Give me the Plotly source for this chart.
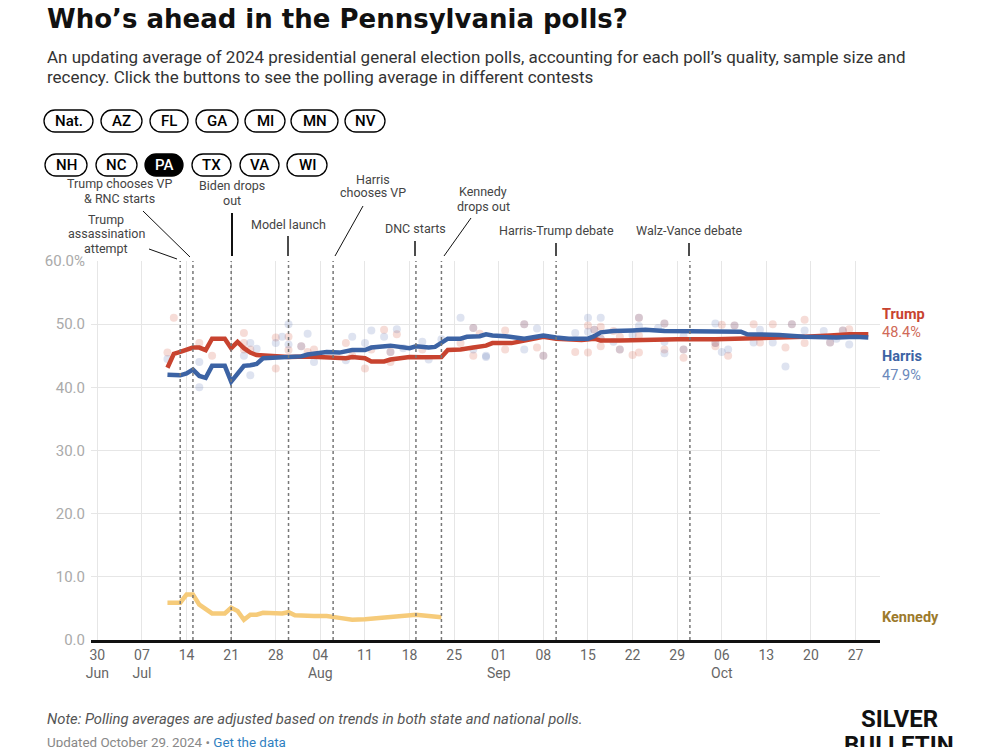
import plotly.graph_objects as go

# ---------------- DATA ----------------
trump_avg_dates = ["07-11","07-12","07-13","07-15","07-16","07-17","07-18","07-20","07-21","07-22","07-23","07-24","07-25","07-28","07-30",
                   "08-02","08-04","08-05","08-08","08-09","08-11","08-12","08-14","08-15","08-17","08-18","08-20","08-22","08-23","08-24",
                   "08-26","08-28","08-29","08-30","08-31","09-03","09-04","09-06","09-08","09-10","09-12","09-14","09-16","09-17","09-20",
                   "09-23","09-25","09-27","09-29","10-05","10-10","10-15","10-19","10-23","10-26","10-29"]
trump_avg = [43.1,45.3,45.6,46.3,46.3,45.9,47.7,47.7,46.2,47.2,46.2,45.5,45.1,45.0,44.8,
             44.9,44.8,44.6,44.6,44.8,44.6,44.1,44.1,44.4,44.6,44.8,44.75,44.9,44.8,45.9,
             46.0,46.3,46.4,46.6,47.0,47.0,47.2,47.6,48.0,47.7,47.6,47.5,47.7,47.4,47.4,
             47.5,47.4,47.5,47.6,47.6,47.7,47.9,48.0,48.2,48.4,48.4]

harris_avg_dates = ["07-11","07-13","07-14","07-15","07-16","07-17","07-18","07-20","07-21","07-22","07-23","07-24","07-25","07-26","07-28",
                    "07-30","08-01","08-02","08-04","08-05","08-07","08-09","08-11","08-12","08-15","08-17","08-18","08-19","08-21","08-22",
                    "08-23","08-24","08-26","08-27","08-29","08-30","08-31","09-02","09-05","09-06","09-08","09-10","09-12","09-15","09-16",
                    "09-17","09-19","09-22","09-24","09-27","09-30","10-07","10-09","10-10","10-15","10-19","10-21","10-24","10-27","10-29"]
harris_avg = [42.0,41.9,42.2,42.8,41.8,41.5,43.4,43.4,40.9,42.1,43.4,43.5,43.7,44.6,44.75,
              44.8,44.9,45.2,45.4,45.6,45.5,45.9,45.9,46.3,46.6,46.4,46.2,46.5,46.3,46.4,
              47.0,47.7,47.7,48.0,48.1,48.4,48.2,48.1,47.7,47.9,48.2,47.9,47.7,47.7,48.1,
              48.7,48.9,49.0,49.1,48.9,48.9,48.9,48.8,48.4,48.3,48.0,47.9,47.9,48.0,47.9]

kennedy_avg_dates = ["07-11","07-13","07-14","07-15","07-16","07-18","07-20","07-21","07-22","07-23","07-24","07-25","07-26","07-28","07-29",
                     "07-30","07-31","08-03","08-05","08-07","08-09","08-11","08-13","08-15","08-16","08-17","08-19","08-21","08-23"]
kennedy_avg = [5.9,5.9,7.2,7.2,5.6,4.2,4.2,5.1,4.6,3.2,4.0,4.0,4.3,4.2,4.2,
               4.4,3.9,3.8,3.8,3.5,3.2,3.3,3.5,3.6,3.7,3.8,4.0,3.8,3.6]

trump_poll_dates = ["07-11","07-12","07-16","07-18","07-23","07-23","07-23","07-24","07-28","07-28","07-30","07-30","08-01","08-02","08-03",
                    "08-08","08-09","08-11","08-12","08-14","08-15","08-15","08-16","08-20","08-26","08-28","08-28","08-29","09-02","09-02",
                    "09-05","09-07","09-08","09-13","09-15","09-15","09-16","09-17","09-17","09-17","09-19","09-20","09-20","09-22","09-23",
                    "09-23","09-23","09-27","09-27","09-30","09-30","10-05","10-05","10-06","10-07","10-08","10-11","10-12","10-14","10-16",
                    "10-17","10-19","10-19","10-23","10-25","10-26"]
trump_poll = [45.5,51.0,47.0,45.0,48.6,46.0,47.0,46.0,47.9,43.0,48.0,45.9,46.5,45.6,46.0,
              47.0,45.0,43.0,46.0,49.1,44.0,45.6,48.4,46.0,47.0,49.4,45.0,48.5,49.0,46.0,
              50.0,46.3,45.0,45.6,49.8,45.5,49.1,49.6,47.7,46.5,48.9,46.0,48.0,45.1,48.2,
              51.0,45.5,50.1,46.0,46.0,44.7,47.0,46.5,49.9,45.0,49.8,50.0,47.1,50.0,46.3,
              50.0,50.7,47.0,47.1,49.0,49.2]

harris_poll_dates = ["07-11","07-16","07-16","07-23","07-24","07-24","07-25","07-28","07-29","07-30","07-30","08-01","08-02","08-03","08-08",
                     "08-09","08-11","08-12","08-14","08-15","08-16","08-17","08-20","08-21","08-23","08-26","08-28","08-28","08-30","08-30",
                     "09-05","09-05","09-07","09-08","09-13","09-15","09-15","09-16","09-17","09-17","09-19","09-20","09-22","09-23","09-23",
                     "09-26","09-27","09-27","09-27","09-30","09-30","10-05","10-05","10-06","10-07","10-08","10-11","10-12","10-14","10-16",
                     "10-17","10-19","10-22","10-23","10-24","10-25","10-26"]
harris_poll = [44.5,44.0,40.0,45.0,47.0,41.9,46.1,47.0,48.0,50.0,46.8,46.5,48.5,44.0,44.3,
               48.0,47.0,49.0,48.0,45.6,49.2,46.2,47.2,44.4,47.6,51.0,49.4,46.0,44.8,45.0,
               50.0,46.0,49.3,45.0,48.6,51.0,48.8,49.1,51.0,47.7,47.2,46.0,48.3,49.7,51.0,
               49.4,50.1,47.2,45.4,46.0,48.1,50.1,47.0,45.6,46.0,49.8,47.1,49.1,47.1,43.3,
               50.0,49.0,48.9,47.1,47.7,49.0,46.8]

event_dates = ["07-13","07-15","07-21","07-30","08-06","08-19","08-23","09-10","10-01"]

week_ticks = ["06-30","07-07","07-14","07-21","07-28","08-04","08-11","08-18","08-25",
              "09-01","09-08","09-15","09-22","09-29","10-06","10-13","10-20","10-27"]
week_labels = ["30<br>Jun","07<br>Jul","14","21","28","04<br>Aug","11","18","25",
               "01<br>Sep","08","15","22","29","06<br>Oct","13","20","27"]
y_ticks = [0, 10, 20, 30, 40, 50, 60]
y_labels = ["0.0", "10.0", "20.0", "30.0", "40.0", "50.0", "60.0%"]

states = ["Nat.", "AZ", "FL", "GA", "MI", "MN", "NV", "NH", "NC", "PA", "TX", "VA", "WI"]
selected_state = "PA"

def d(s):
    return "2024-" + s

# ---------------- LAYOUT GEOMETRY ----------------
FW, FH = 987, 747
L, R, T, B = 91, 880, 261, 640
PW, PH = R - L, B - T

def pp(px, py):
    return ((px - L) / PW, (B - py) / PH)

RED = "#c8432f"
BLUE = "#3c63a4"
GOLD = "#f6cb7a"
FONT = "Roboto, sans-serif"

fig = go.Figure()

fig.add_trace(go.Scatter(x=[d(s) for s in trump_poll_dates], y=trump_poll, mode="markers",
                         marker=dict(size=8, color="rgba(214,95,75,0.22)", line=dict(width=0)),
                         hoverinfo="skip"))
fig.add_trace(go.Scatter(x=[d(s) for s in harris_poll_dates], y=harris_poll, mode="markers",
                         marker=dict(size=8, color="rgba(70,100,170,0.18)", line=dict(width=0)),
                         hoverinfo="skip"))
fig.add_trace(go.Scatter(x=[d(s) for s in kennedy_avg_dates], y=kennedy_avg, mode="lines",
                         line=dict(color=GOLD, width=4.5)))
fig.add_trace(go.Scatter(x=[d(s) for s in trump_avg_dates], y=trump_avg, mode="lines",
                         line=dict(color=RED, width=4.5)))
fig.add_trace(go.Scatter(x=[d(s) for s in harris_avg_dates], y=harris_avg, mode="lines",
                         line=dict(color=BLUE, width=4.5)))

shapes = []
annotations = []

# event dotted lines
for e in event_dates:
    shapes.append(dict(type="line", xref="x", yref="y", x0=d(e), x1=d(e), y0=0, y1=60,
                       line=dict(color="#777", width=1.5, dash="dot"), layer="above"))

# leader lines (pixel positions)
leaders = [((149, 249), (177, 259), 1), ((143, 211), (190, 257), 1), ((232, 213), (232, 256), 2),
           ((288, 236), (288, 256), 1.5), ((363, 206), (335, 256), 1), ((415, 241), (415, 256), 1.5),
           ((471, 218), (444, 256), 1), ((556, 243), (556, 256), 1.5), ((689, 243), (689, 256), 1.5)]
for (a, b, w) in leaders:
    x0, y0 = pp(*a)
    x1, y1 = pp(*b)
    shapes.append(dict(type="line", xref="paper", yref="paper", x0=x0, y0=y0, x1=x1, y1=y1,
                       line=dict(color="#111", width=w)))

event_text = [
    (119, [("Trump chooses VP", 184), ("& RNC starts", 199)]),
    (106, [("Trump", 219), ("assassination", 233), ("attempt", 248)]),
    (232, [("Biden drops", 185), ("out", 200)]),
    (288, [("Model launch", 224)]),
    (373, [("Harris", 179), ("chooses VP", 193)]),
    (415, [("DNC starts", 229)]),
    (483, [("Kennedy", 191), ("drops out", 206)]),
    (556, [("Harris-Trump debate", 230)]),
    (689, [("Walz-Vance debate", 230)]),
]
for cx, lines in event_text:
    for txt, cy in lines:
        x, y = pp(cx, cy)
        annotations.append(dict(xref="paper", yref="paper", x=x, y=y, text=txt, showarrow=False,
                                xanchor="center", yanchor="middle",
                                font=dict(family=FONT, size=12.5, color="#444")))

# state buttons (pills)
pill_px = [(44, 93, 121), (101, 142, 121), (150, 188, 121), (196, 238, 121), (245, 285, 121),
           (291, 338, 121), (345, 385, 121),
           (45, 87, 165), (96, 137, 165), (145, 183, 165), (192, 231, 165), (240, 279, 165), (287, 327, 165)]

def pill_path(x0, x1, yc, h=22):
    r = h / 2.0
    k = 0.5523 * r
    y0, y1 = yc - r, yc + r
    def P(x, y):
        a, b = pp(x, y)
        return f"{a:.5f},{b:.5f}"
    return (f"M {P(x0 + r, y0)} L {P(x1 - r, y0)} "
            f"C {P(x1 - r + k, y0)} {P(x1, yc - k)} {P(x1, yc)} "
            f"C {P(x1, yc + k)} {P(x1 - r + k, y1)} {P(x1 - r, y1)} "
            f"L {P(x0 + r, y1)} "
            f"C {P(x0 + r - k, y1)} {P(x0, yc + k)} {P(x0, yc)} "
            f"C {P(x0, yc - k)} {P(x0 + r - k, y0)} {P(x0 + r, y0)} Z")

for st, (x0, x1, yc) in zip(states, pill_px):
    sel = st == selected_state
    shapes.append(dict(type="path", xref="paper", yref="paper", path=pill_path(x0, x1, yc),
                       fillcolor="#000" if sel else "#fff", line=dict(color="#000", width=1.3)))
    x, y = pp((x0 + x1) / 2, yc)
    annotations.append(dict(xref="paper", yref="paper", x=x, y=y, text=st, showarrow=False,
                            xanchor="center", yanchor="middle",
                            font=dict(family=FONT, size=15, color="#fff" if sel else "#000", weight=500)))

# title, subtitle
x, y = pp(45, 19)
annotations.append(dict(xref="paper", yref="paper", x=x, y=y, xanchor="left", yanchor="middle",
                        text="<b>Who’s ahead in the Pennsylvania polls?</b>", showarrow=False,
                        font=dict(family="DejaVu Sans, sans-serif", size=26, color="#111")))
for txt, cy in [("An updating average of 2024 presidential general election polls, accounting for each poll’s quality, sample size and", 57),
                ("recency. Click the buttons to see the polling average in different contests", 77)]:
    x, y = pp(45, cy)
    annotations.append(dict(xref="paper", yref="paper", x=x, y=y, xanchor="left", yanchor="middle",
                            text=txt, showarrow=False, font=dict(family=FONT, size=17, color="#333")))

# right-hand labels
right_labels = [("<b>Trump</b>", 314, RED), (f"{trump_avg[-1]:.1f}%", 332, "#d06a58"),
                ("<b>Harris</b>", 356, BLUE), (f"{harris_avg[-1]:.1f}%", 375, "#6a88bb"),
                ("<b>Kennedy</b>", 617, "#9c7a2c")]
for txt, cy, col in right_labels:
    x, y = pp(880, cy)
    annotations.append(dict(xref="paper", yref="paper", x=x, y=y, xanchor="left", yanchor="middle",
                            text=txt, showarrow=False, font=dict(family=FONT, size=14.5, color=col)))

# footer
x, y = pp(45, 719)
annotations.append(dict(xref="paper", yref="paper", x=x, y=y, xanchor="left", yanchor="middle",
                        text="<i>Note: Polling averages are adjusted based on trends in both state and national polls.</i>",
                        showarrow=False, font=dict(family=FONT, size=14.8, color="#555")))
x, y = pp(45, 742)
annotations.append(dict(xref="paper", yref="paper", x=x, y=y, xanchor="left", yanchor="middle",
                        text="Updated October 29, 2024 • <span style='color:#2f7fc1'>Get the data</span>",
                        showarrow=False, font=dict(family=FONT, size=13.4, color="#888")))
for txt, cy in [("SILVER", 719), ("BULLETIN", 745)]:
    x, y = pp(899, cy)
    annotations.append(dict(xref="paper", yref="paper", x=x, y=y, xanchor="center", yanchor="middle",
                            text=txt, showarrow=False,
                            font=dict(family="Liberation Sans Narrow, Roboto, sans-serif", size=24,
                                      color="#111", weight=700)))

fig.update_layout(
    width=FW, height=FH,
    margin=dict(l=L, r=FW - R, t=T, b=FH - B, pad=0),
    paper_bgcolor="#fff", plot_bgcolor="#fff",
    showlegend=False,
    shapes=shapes, annotations=annotations,
    xaxis=dict(type="date", range=["2024-06-29", "2024-10-30 20:00"],
               tickvals=[d(s) for s in week_ticks], ticktext=week_labels,
               tickfont=dict(family=FONT, size=14, color="#666"),
               showgrid=True, gridcolor="#e6e6e6", gridwidth=1,
               showline=True, linecolor="#111", linewidth=3, ticks="", zeroline=False),
    yaxis=dict(range=[0, 60], tickvals=y_ticks, ticktext=y_labels,
               tickfont=dict(family=FONT, size=15, color="#aaa"), ticklabelstandoff=5,
               showgrid=True, gridcolor="#e6e6e6", gridwidth=1, zeroline=False, ticks=""),
)

fig.write_html("out.html")
